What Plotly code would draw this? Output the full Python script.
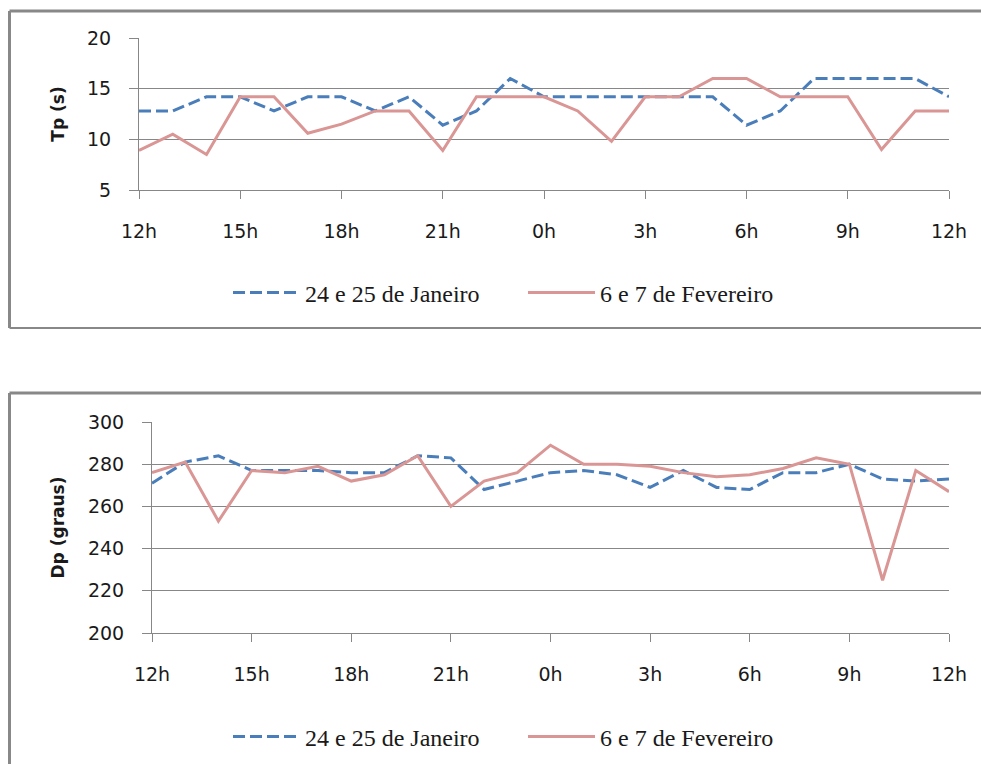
import plotly.graph_objects as go

# Hours elapsed since 12h on the first day (hourly samples over 24 h)
hours = [0, 1, 2, 3, 4, 5, 6, 7, 8, 9, 10, 11, 12,
         13, 14, 15, 16, 17, 18, 19, 20, 21, 22, 23, 24]
tick_hours = [0, 3, 6, 9, 12, 15, 18, 21, 24]
tick_labels = ["12h", "15h", "18h", "21h", "0h", "3h", "6h", "9h", "12h"]

series_names = ["24 e 25 de Janeiro", "6 e 7 de Fevereiro"]

# Peak period Tp (s)
tp_jan = [12.8, 12.8, 14.2, 14.2, 12.8, 14.2, 14.2, 12.8, 14.2, 11.4, 12.8, 16.0, 14.2,
          14.2, 14.2, 14.2, 14.2, 14.2, 11.4, 12.8, 16.0, 16.0, 16.0, 16.0, 14.2]
tp_fev = [8.9, 10.5, 8.5, 14.2, 14.2, 10.6, 11.5, 12.8, 12.8, 8.9, 14.2, 14.2, 14.2,
          12.8, 9.8, 14.2, 14.2, 16.0, 16.0, 14.2, 14.2, 14.2, 9.0, 12.8, 12.8]

# Peak direction Dp (graus)
dp_jan = [271, 281, 284, 277, 277, 277, 276, 276, 284, 283, 268, 272, 276,
          277, 275, 269, 277, 269, 268, 276, 276, 280, 273, 272, 273]
dp_fev = [276, 281, 253, 277, 276, 279, 272, 275, 284, 260, 272, 276, 289,
          280, 280, 279, 276, 274, 275, 278, 283, 280, 225, 277, 267]

W, H = 981, 764
BLUE = "#4A7EBB"
PINK = "#D99694"
GRID = "#878787"
TEXT = "#1a1a1a"


def px_x(p):
    return p / W


def px_y(p):
    return 1 - p / H


fig = go.Figure()

panels = [
    dict(x="x", y="y", legend="legend", a=tp_jan, b=tp_fev),
    dict(x="x2", y="y2", legend="legend2", a=dp_jan, b=dp_fev),
]
for p in panels:
    fig.add_trace(go.Scatter(
        x=hours, y=p["a"], name=series_names[0], mode="lines",
        line=dict(color=BLUE, width=3, dash="12px,5px"),
        xaxis=p["x"], yaxis=p["y"], legend=p["legend"]))
    fig.add_trace(go.Scatter(
        x=hours, y=p["b"], name=series_names[1], mode="lines",
        line=dict(color=PINK, width=3),
        xaxis=p["x"], yaxis=p["y"], legend=p["legend"]))

tick_font = dict(family="DejaVu Sans", size=19, color=TEXT)
title_font = dict(family="DejaVu Sans", size=17, color=TEXT, weight="bold")

xaxis_common = dict(
    range=[0, 24], tickmode="array", tickvals=tick_hours, ticktext=tick_labels,
    showgrid=False, zeroline=False, showline=True, linecolor=GRID, linewidth=1,
    ticks="outside", ticklen=8, tickcolor=GRID, tickwidth=1,
    tickfont=tick_font, ticklabelstandoff=16, automargin=False,
)
yaxis_common = dict(
    showgrid=True, gridcolor=GRID, gridwidth=1, zeroline=False,
    showline=True, linecolor=GRID, linewidth=1,
    ticks="outside", ticklen=9, tickcolor=GRID, tickwidth=1,
    tickfont=tick_font, ticklabelstandoff=14, automargin=False,
)

legend_common = dict(
    orientation="h", font=dict(family="Liberation Serif", size=24, color=TEXT),
    bgcolor="rgba(0,0,0,0)", itemwidth=67, xanchor="left", yanchor="middle",
    traceorder="normal", entrywidth=213, entrywidthmode="pixels",
)

fig.update_layout(
    width=W, height=H,
    margin=dict(l=0, r=0, t=0, b=0, autoexpand=False),
    paper_bgcolor="white", plot_bgcolor="white",
    xaxis=dict(domain=[px_x(139), px_x(949)], anchor="y", **xaxis_common),
    yaxis=dict(domain=[px_y(190), px_y(38)], anchor="x", range=[5, 20], dtick=5,
               title=dict(text="Tp (s)", font=title_font, standoff=18),
               **yaxis_common),
    xaxis2=dict(domain=[px_x(152), px_x(949)], anchor="y2", **xaxis_common),
    yaxis2=dict(domain=[px_y(633), px_y(422)], anchor="x2", range=[200, 300], dtick=20,
                title=dict(text="Dp (graus)", font=title_font, standoff=18),
                **yaxis_common),
    legend=dict(x=px_x(228), y=px_y(293), **legend_common),
    legend2=dict(x=px_x(228), y=px_y(737), **legend_common),
    showlegend=True,
)

# Chart frames: top, left and bottom edges of the upper box; top and left of the lower box
frame = dict(color="#888888", width=3)
fig.add_shape(type="line", xref="paper", yref="paper",
              x0=px_x(9.5), x1=1.0, y0=px_y(11), y1=px_y(11), line=frame)
fig.add_shape(type="line", xref="paper", yref="paper",
              x0=px_x(9.5), x1=px_x(9.5), y0=px_y(11), y1=px_y(328), line=frame)
fig.add_shape(type="line", xref="paper", yref="paper",
              x0=px_x(9.5), x1=1.0, y0=px_y(328), y1=px_y(328),
              line=dict(color="#888888", width=2))
fig.add_shape(type="line", xref="paper", yref="paper",
              x0=px_x(9.5), x1=1.0, y0=px_y(393), y1=px_y(393), line=frame)
fig.add_shape(type="line", xref="paper", yref="paper",
              x0=px_x(9.5), x1=px_x(9.5), y0=px_y(393), y1=0.0, line=frame)

fig.write_html("out.html")
